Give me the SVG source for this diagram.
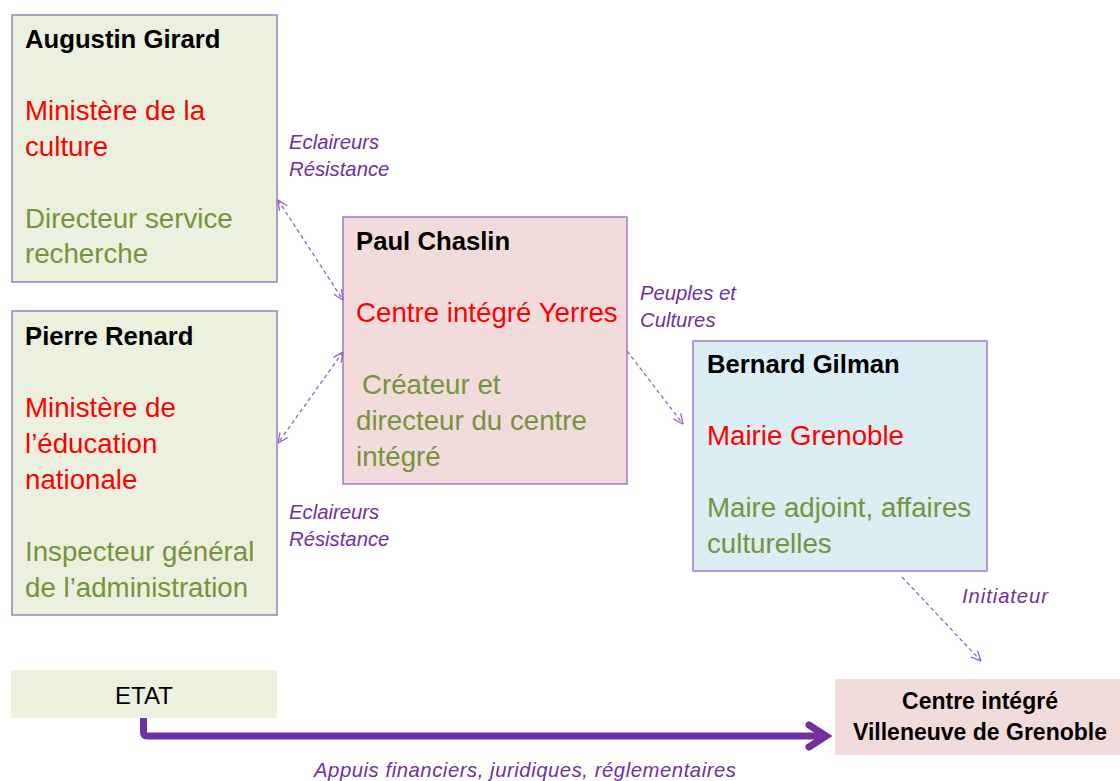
<svg xmlns="http://www.w3.org/2000/svg" width="1120" height="781" viewBox="0 0 1120 781">
<defs>
<style>
text{font-family:"Liberation Sans",Arial,sans-serif;}
.box{stroke:#9474C0;stroke-width:1.4;}
.g{fill:#EBF1DE;}
.p{fill:#F2DCDB;}
.b{fill:#DBEEF4;}
.h{font-weight:bold;font-size:25.7px;fill:#000;}
.r{font-size:27.7px;fill:#FF0000;}
.v{font-size:27.7px;fill:#77933C;}
.lab{font-style:italic;font-size:20.3px;fill:#7030A0;}
.dash{fill:none;stroke:#9366C6;stroke-width:1.3;stroke-dasharray:4 3;}
</style>
<marker id="ah" viewBox="0 0 10 10" refX="9.5" refY="5" markerWidth="11" markerHeight="11" markerUnits="userSpaceOnUse" orient="auto-start-reverse">
<path d="M0.5,0.8 L9.5,5 L0.5,9.2" fill="none" stroke="#9366C6" stroke-width="1.2"/>
</marker>
</defs>
<rect width="1120" height="781" fill="#FFFFFF"/>

<g id="augustin">
<rect class="box g" x="12" y="15" width="265" height="267"/>
<text class="h" x="25" y="48">Augustin Girard</text>
<text class="r" x="25" y="120">Ministère de la</text>
<text class="r" x="25" y="156">culture</text>
<text class="v" x="25" y="228">Directeur service</text>
<text class="v" x="25" y="263">recherche</text>
</g>

<g id="pierre">
<rect class="box g" x="12" y="311" width="265" height="304"/>
<text class="h" x="25" y="345">Pierre Renard</text>
<text class="r" x="25" y="417">Ministère de</text>
<text class="r" x="25" y="453">l’éducation</text>
<text class="r" x="25" y="489">nationale</text>
<text class="v" x="25" y="561">Inspecteur général</text>
<text class="v" x="25" y="597">de l’administration</text>
</g>

<g id="paul">
<rect class="box p" x="343" y="217" width="284" height="267"/>
<text class="h" x="356" y="250">Paul Chaslin</text>
<text class="r" x="356" y="322">Centre intégré Yerres</text>
<text class="v" x="362" y="394">Créateur et</text>
<text class="v" x="356" y="430">directeur du centre</text>
<text class="v" x="356" y="466">intégré</text>
</g>

<g id="bernard">
<rect class="box b" x="693" y="341" width="294" height="230"/>
<text class="h" x="707" y="373">Bernard Gilman</text>
<text class="r" x="707" y="445">Mairie Grenoble</text>
<text class="v" x="707" y="517">Maire adjoint, affaires</text>
<text class="v" x="707" y="553">culturelles</text>
</g>

<g id="etat">
<rect class="g" x="11" y="670" width="266" height="48"/>
<text x="144" y="704" text-anchor="middle" font-size="24" fill="#000">ETAT</text>
</g>

<g id="centre">
<rect class="p" x="835" y="679" width="285" height="76"/>
<text x="980" y="709" text-anchor="middle" font-size="23" font-weight="bold" fill="#000">Centre intégré</text>
<text x="980" y="740" text-anchor="middle" font-size="23" font-weight="bold" fill="#000">Villeneuve de Grenoble</text>
</g>

<g id="connectors">
<line class="dash" x1="278" y1="200" x2="343" y2="300" marker-start="url(#ah)" marker-end="url(#ah)"/>
<line class="dash" x1="343" y1="352" x2="278" y2="443" marker-start="url(#ah)" marker-end="url(#ah)"/>
<line class="dash" x1="627" y1="351" x2="683" y2="424" marker-end="url(#ah)"/>
<line class="dash" x1="902" y1="577" x2="981" y2="661" marker-end="url(#ah)"/>
<path d="M143.5,718 V732 Q143.5,736 147.5,736 H826" fill="none" stroke="#7030A0" stroke-width="7"/>
<polyline points="809,725 826,736 809,747" fill="none" stroke="#7030A0" stroke-width="7" stroke-linecap="round" stroke-linejoin="miter"/>
</g>

<g id="labels">
<text class="lab" x="289" y="149">Eclaireurs</text>
<text class="lab" x="289" y="176">Résistance</text>
<text class="lab" x="289" y="519">Eclaireurs</text>
<text class="lab" x="289" y="546">Résistance</text>
<text class="lab" x="640" y="300">Peuples et</text>
<text class="lab" x="640" y="327">Cultures</text>
<text class="lab" x="962" y="603" font-size="21" textLength="86" lengthAdjust="spacing">Initiateur</text>
<text class="lab" x="314" y="777" font-size="21.5" textLength="422" lengthAdjust="spacing">Appuis financiers, juridiques, réglementaires</text>
</g>
</svg>
